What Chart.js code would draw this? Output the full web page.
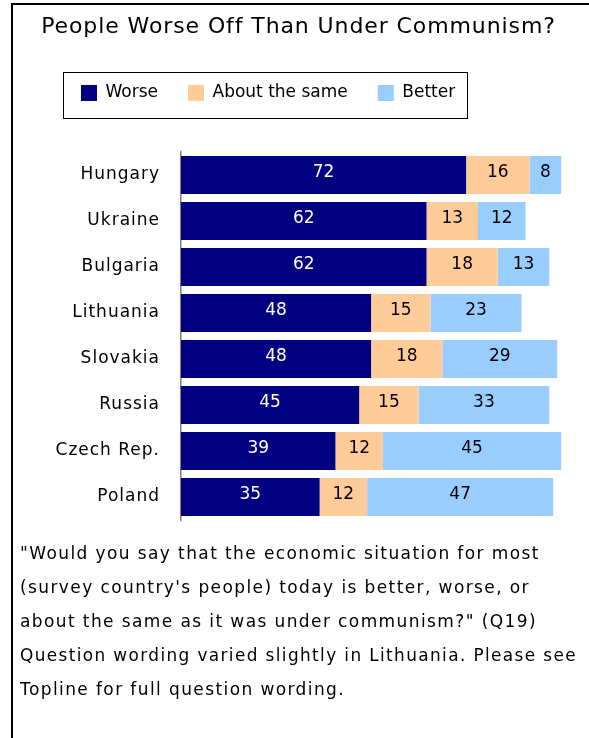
<!DOCTYPE html>
<html>
<head>
<meta charset="utf-8">
<title>People Worse Off Than Under Communism?</title>
<script src="https://cdn.jsdelivr.net/npm/chart.js@4/dist/chart.umd.min.js"></script>
<style>
html, body { margin: 0; padding: 0; background: #fff; }
#wrap { width: 589px; height: 738px; }
</style>
</head>
<body>
<div id="wrap"><canvas id="chart" width="589" height="738"></canvas></div>
<script>
;(function () {
	'use strict';

	// Values
	var countries = ['Hungary', 'Ukraine', 'Bulgaria', 'Lithuania', 'Slovakia', 'Russia', 'Czech Rep.', 'Poland'];
	var worse  = [72, 62, 62, 48, 48, 45, 39, 35];
	var same   = [16, 13, 18, 15, 18, 15, 12, 12];
	var better = [8, 12, 13, 23, 29, 33, 45, 47];
	var seriesNames = ['Worse', 'About the same', 'Better'];

	var titleText = 'People Worse Off Than Under Communism?';
	var noteLines = [
		'"Would you say that the economic situation for most',
		'(survey country\'s people) today is better, worse, or',
		'about the same as it was under communism?" (Q19)',
		'Question wording varied slightly in Lithuania. Please see',
		'Topline for full question wording.'
	];

	var colors = {
		worse: '#000080',
		same: '#FFCC99',
		better: '#99CCFF'
	};

	var FONT = '"DejaVu Sans", Verdana, sans-serif';
	Chart.defaults.font.family = FONT;
	Chart.defaults.color = '#000';

	// the original text is a bit letter-spaced; wrap a box's draw to do the same
	function spaced(box, px) {
		var draw;
		if(!box || box._spaced) {
			return;
		}
		draw = box.draw;
		box.draw = function() {
			var ctx = this.ctx,
				old = ctx.letterSpacing;
			ctx.letterSpacing = px + 'px';
			draw.apply(this, arguments);
			ctx.letterSpacing = old || '0px';
		};
		box._spaced = true;
	}

	var spacing = {
		id: 'spacing',
		beforeLayout: function(chart) {
			spaced(chart.scales.y, 1);
		},
		afterLayout: function(chart) {
			spaced(chart.titleBlock, 0.9);
			chart.boxes.forEach(function(box) {
				if(box !== chart.titleBlock && box !== chart.legend && box.options && box.options.position === 'bottom') {
					spaced(box, 1.4);
				}
			});
		}
	};

	// white page + outer frame (only top and left edges are visible)
	var frame = {
		id: 'frame',
		beforeDraw: function(chart) {
			var ctx = chart.ctx;
			ctx.save();
			ctx.fillStyle = '#fff';
			ctx.fillRect(0, 0, chart.width, chart.height);
			ctx.strokeStyle = '#000';
			ctx.lineWidth = 2;
			ctx.strokeRect(12, 4, chart.width + 20, chart.height + 20);
			ctx.restore();
		}
	};

	// move the legend a bit to the right, like the original
	var legendShift = {
		id: 'legendShift',
		afterLayout: function(chart) {
			chart.legend.left += 31;
			chart.legend.right += 31;
		}
	};

	// thin box round the legend items
	var legendBox = {
		id: 'legendBox',
		afterDraw: function(chart) {
			var boxes = chart.legend.legendHitBoxes,
				ctx = chart.ctx,
				first, last;
			if(!boxes || !boxes.length) {
				return;
			}
			first = boxes[0];
			last = boxes[boxes.length - 1];
			ctx.save();
			ctx.strokeStyle = '#000';
			ctx.lineWidth = 1;
			ctx.strokeRect(Math.round(first.left - 18) + 0.5, Math.round(first.top - 13) + 0.5,
				Math.round(last.left + last.width + 12 - (first.left - 18)),
				Math.round(first.height + 29));
			ctx.restore();
		}
	};

	// numbers inside the bar segments
	var valueLabels = {
		id: 'valueLabels',
		afterDatasetsDraw: function(chart) {
			var ctx = chart.ctx;
			ctx.save();
			ctx.font = '17px ' + FONT;
			ctx.textAlign = 'center';
			ctx.textBaseline = 'middle';
			chart.data.datasets.forEach(function(ds, di) {
				var meta = chart.getDatasetMeta(di);
				ctx.fillStyle = di === 0 ? '#fff' : '#000';
				meta.data.forEach(function(bar, i) {
					var x = (bar.x + bar.base) / 2;
					ctx.fillText(String(ds.data[i]), x, bar.y - 2);
				});
			});
			ctx.restore();
		}
	};

	var data = {
		labels: countries,
		datasets: [
			{ label: seriesNames[0], data: worse, backgroundColor: colors.worse },
			{ label: seriesNames[1], data: same, backgroundColor: colors.same },
			{ label: seriesNames[2], data: better, backgroundColor: colors.better }
		]
	};

	new Chart(document.getElementById('chart'), {
		type: 'bar',
		data: data,
		plugins: [frame, spacing, legendShift, legendBox, valueLabels],
		options: {
			indexAxis: 'y',
			responsive: false,
			animation: false,
			devicePixelRatio: 1,
			layout: {
				padding: { left: 20, right: 12, top: 14, bottom: 0 }
			},
			datasets: {
				bar: {
					barPercentage: 0.826,
					categoryPercentage: 1,
					borderWidth: 0
				}
			},
			scales: {
				x: {
					stacked: true,
					min: 0,
					max: 100,
					position: 'top',
					ticks: { display: false },
					grid: { display: false, drawTicks: false },
					border: { display: false },
					// spacer between the legend and the bars
					afterFit: function(scale) {
						scale.height = 40.5;
					}
				},
				y: {
					stacked: true,
					grid: { display: false, drawTicks: false },
					border: { display: true, color: '#808080', width: 1.5 },
					ticks: {
						padding: 21,
						font: { size: 17 },
						color: '#000'
					},
					afterFit: function(scale) {
						scale.width = 161;
					}
				}
			},
			plugins: {
				title: {
					display: true,
					text: titleText,
					font: { size: 22, weight: 'normal' },
					padding: { top: 0, bottom: 14.1 },
					color: '#000'
				},
				legend: {
					position: 'top',
					align: 'start',
					labels: {
						boxWidth: 16,
						boxHeight: 16,
						padding: 30,
						font: { size: 17 },
						color: '#000'
					}
				},
				subtitle: {
					display: true,
					position: 'bottom',
					align: 'start',
					text: noteLines,
					font: { size: 17, lineHeight: 2 },
					padding: { top: 18, bottom: 30 },
					color: '#000'
				},
				tooltip: { enabled: false }
			}
		}
	});
})();
</script>
</body>
</html>
